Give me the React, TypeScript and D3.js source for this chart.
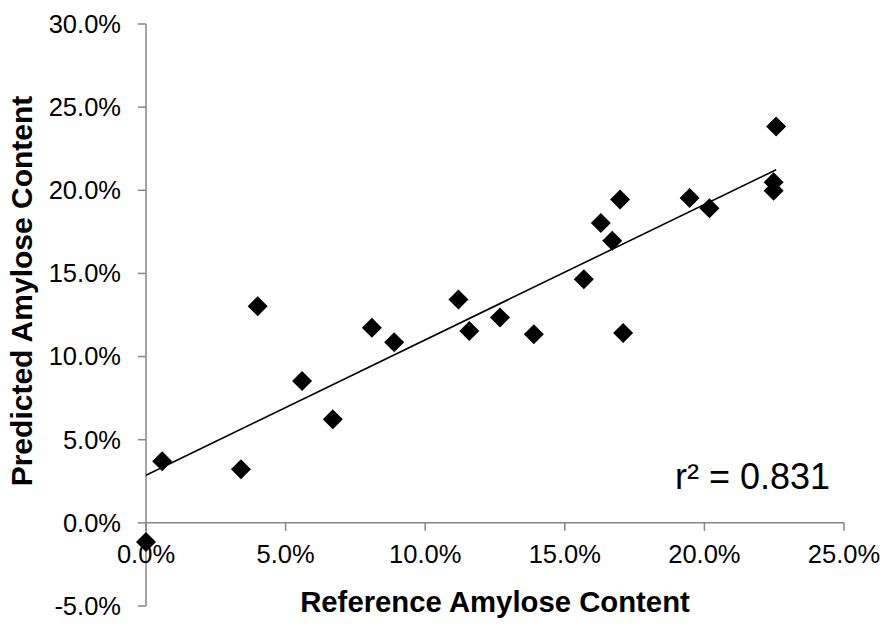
import React from "react";
import * as d3 from "d3";

const referenceValues = [0.00, 0.58, 3.40, 4.00, 5.59, 6.69, 8.09, 8.89, 11.19, 11.58, 12.68, 13.89, 15.68, 16.29, 16.70, 16.98, 17.09, 19.47, 20.18, 22.48, 22.48, 22.57];
const predictedValues = [-1.15, 3.70, 3.22, 13.03, 8.53, 6.23, 11.74, 10.86, 13.43, 11.54, 12.35, 11.34, 14.65, 18.04, 16.96, 19.45, 11.42, 19.54, 18.92, 20.49, 19.97, 23.84];
const xTicks = [0, 5, 10, 15, 20, 25];
const yTicks = [-5, 0, 5, 10, 15, 20, 25, 30];
const xTitle = "Reference Amylose Content";
const yTitle = "Predicted Amylose Content";
const r2Label = "r² = 0.831";

const W = 884;
const H = 644;
const FONT = "'Liberation Sans', Arial, sans-serif";
const AXIS = "#868686";

export default function App() {
  const x = d3.scaleLinear().domain([0, 25]).range([146, 844]);
  const y = d3.scaleLinear().domain([-5, 30]).range([606, 24]);

  const pts = referenceValues.map((v, i) => ({ x: v, y: predictedValues[i] }));
  const mx = d3.mean(pts, (p) => p.x) as number;
  const my = d3.mean(pts, (p) => p.y) as number;
  const sxy = d3.sum(pts, (p) => (p.x - mx) * (p.y - my));
  const sxx = d3.sum(pts, (p) => (p.x - mx) * (p.x - mx));
  const slope = sxy / sxx;
  const intercept = my - slope * mx;
  const xMax = d3.max(referenceValues) as number;
  const line = d3.line<number>().x((d) => x(d)).y((d) => y(intercept + slope * d));
  const diamond = d3.symbol().type(d3.symbolSquare).size(200)();

  const fmt = (v: number) => v.toFixed(1) + "%";

  return (
    <svg width={W} height={H} style={{ position: "absolute", left: 0, top: 0, background: "#fff" }} fontFamily={FONT}>
      <rect x={0} y={0} width={W} height={H} fill="#fff" />
      {/* y axis */}
      <line x1={x(0)} x2={x(0)} y1={y(-5)} y2={y(30)} stroke={AXIS} strokeWidth={1.5} />
      {yTicks.map((t) => (
        <g key={"y" + t}>
          <line x1={x(0) - 8} x2={x(0)} y1={y(t)} y2={y(t)} stroke={AXIS} strokeWidth={1.5} />
          <text x={121} y={y(t)} dy="0.35em" textAnchor="end" fontSize={25.5} fill="#000">
            {fmt(t)}
          </text>
        </g>
      ))}
      {/* x axis */}
      <line x1={x(0)} x2={x(25)} y1={y(0)} y2={y(0)} stroke={AXIS} strokeWidth={1.5} />
      {xTicks.map((t) => (
        <g key={"x" + t}>
          <line x1={x(t)} x2={x(t)} y1={y(0)} y2={y(0) + 8} stroke={AXIS} strokeWidth={1.5} />
          <text x={x(t)} y={563} textAnchor="middle" fontSize={25.5} fill="#000">
            {fmt(t)}
          </text>
        </g>
      ))}
      {/* trendline */}
      <path d={line([0, xMax]) || ""} fill="none" stroke="#000" strokeWidth={1.6} />
      {/* points */}
      {pts.map((p, i) => (
        <path key={i} d={diamond || ""} transform={`translate(${x(p.x)},${y(p.y)}) rotate(45)`} fill="#000" />
      ))}
      <text x={675} y={489} fontSize={36} fill="#000">{r2Label}</text>
      <text x={495} y={612} textAnchor="middle" fontSize={29.3} fontWeight="bold" fill="#000">{xTitle}</text>
      <text transform={`translate(32,291) rotate(-90)`} textAnchor="middle" fontSize={30} fontWeight="bold" fill="#000">{yTitle}</text>
    </svg>
  );
}
